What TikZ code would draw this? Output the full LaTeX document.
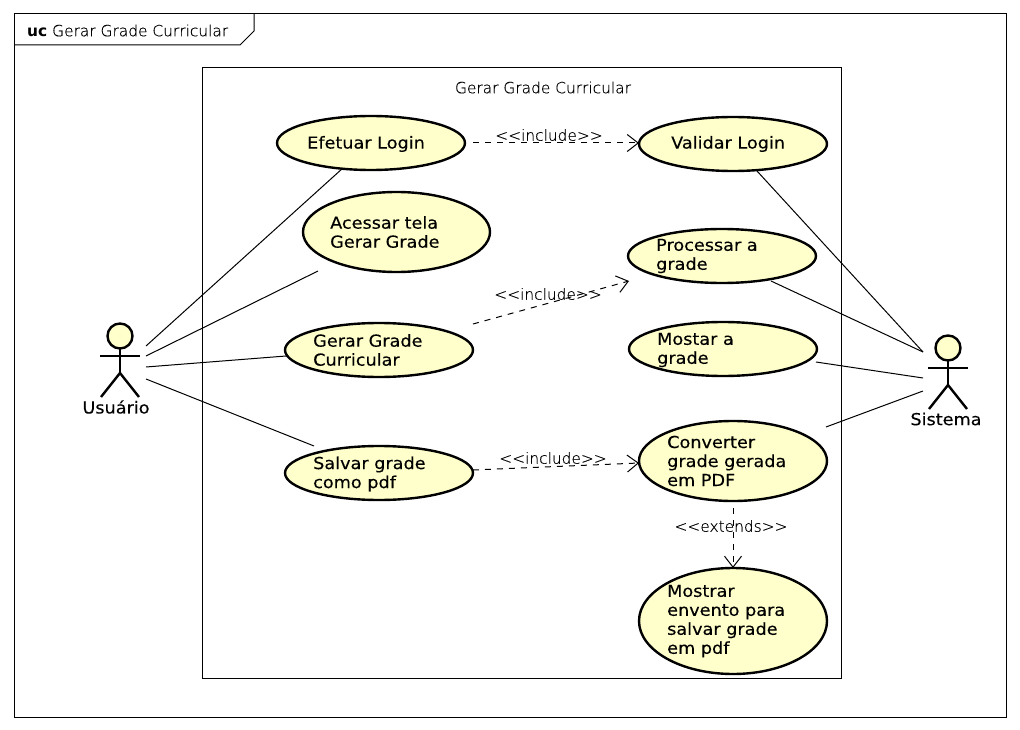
\documentclass[tikz,border=0pt]{standalone}
\usepackage{fontspec}
\setmainfont[FakeStretch=1.07,FakeBold=0.25]{DejaVu Sans}
\newfontfamily\thinfont[FakeBold=0.3]{DejaVu Sans ExtraLight}
\newfontfamily\heavyfont{DejaVu Sans Bold}
\usetikzlibrary{arrows.meta,shapes.geometric}
\definecolor{casefill}{HTML}{FFFFCC}
\tikzset{
	usecase/.style={draw, ellipse, fill=casefill, line width=2.4pt, inner sep=0pt},
	casetext/.style={anchor=west, align=left, font=\fontsize{16.5}{19}\selectfont, inner sep=0pt},
	actortext/.style={font=\fontsize{16.5}{19}\selectfont, inner sep=0pt},
	thintext/.style={font=\thinfont\fontsize{15.4}{18}\selectfont, inner sep=0pt},
	assoc/.style={line width=1pt},
	depend/.style={line width=1pt, dash pattern=on 6pt off 6pt, -{Straight Barb[length=11pt,width=17pt,line width=1pt]}},
}
\def\drawactor(#1,#2){
	\draw[fill=casefill, line width=2.4pt] (#1, #2) circle (12.5);
	\draw[line width=2.4pt] (#1, #2+12.5) -- (#1, #2+37) (#1-20, #2+20) -- (#1+20, #2+20);
	\draw[line width=2.4pt] (#1-19, #2+61) -- (#1, #2+37) -- (#1+19, #2+61);
}
\begin{document}
\begin{tikzpicture}[x=1pt, y=-1pt]
	\useasboundingbox (0, 0) rectangle (1020, 730);
	%%%%% FRAME %%%%%
	\draw[line width=1pt] (14, 14) rectangle (1006, 717);
	\draw[line width=1pt] (254, 14) -- (254, 31) -- (240, 45) -- (14, 45);
	\node[thintext, anchor=west] (frametitle) at (27, 30.5) {{\heavyfont uc} Gerar Grade Curricular};
	\draw[line width=1pt] (202, 68) rectangle (841, 678);
	\node[thintext] (boxtitle) at (543, 87.5) {Gerar Grade Curricular};

	%%%%% USE CASES %%%%%
	\node[usecase, minimum width=188, minimum height=54] (login) at (371, 143) {};
	\node[casetext] at (307, 144) {Efetuar Login};
	\node[usecase, minimum width=188, minimum height=54] (validar) at (733, 144) {};
	\node[casetext] at (671, 144) {Validar Login};
	\node[usecase, minimum width=187, minimum height=80] (acessar) at (396.5, 232) {};
	\node[casetext] at (330, 232) {Acessar tela\\Gerar Grade};
	\node[usecase, minimum width=188, minimum height=54] (processar) at (722, 256) {};
	\node[casetext] at (656, 256) {Processar a\\grade};
	\node[usecase, minimum width=188, minimum height=54] (gerar) at (379, 350) {};
	\node[casetext] at (313, 350) {Gerar Grade\\Curricular};
	\node[usecase, minimum width=188, minimum height=54] (mostar) at (723, 349) {};
	\node[casetext] at (657, 350) {Mostar a\\grade};
	\node[usecase, minimum width=188, minimum height=54] (salvar) at (379, 473) {};
	\node[casetext] at (313, 474) {Salvar grade\\como pdf};
	\node[usecase, minimum width=188, minimum height=80] (converter) at (733, 461) {};
	\node[casetext] at (667, 461) {Converter\\grade gerada\\em PDF};
	\node[usecase, minimum width=188, minimum height=106] (mostrar) at (733, 621) {};
	\node[casetext] at (667, 621) {Mostrar\\envento para\\salvar grade\\em pdf};

	%%%%% ACTORS %%%%%
	\drawactor(120, 336)
	\node[actortext] (usuario) at (116, 407) {Usuário};
	\drawactor(948, 348)
	\node[actortext] (sistema) at (946, 419) {Sistema};

	%%%%% CONNECTOR ENDS %%%%%
	\coordinate (usuarioa) at (146, 346);
	\coordinate (usuariob) at (146, 356);
	\coordinate (usuarioc) at (146, 367);
	\coordinate (usuariod) at (146, 379);
	\coordinate (sistemaa) at (923, 352);
	\coordinate (sistemab) at (923, 378);
	\coordinate (sistemac) at (923, 391);
	\coordinate (loginend) at (343, 168);
	\coordinate (acessarend) at (318, 271);
	\coordinate (gerarend) at (286, 356);
	\coordinate (salvarend) at (314, 446);
	\coordinate (validarend) at (757, 171);
	\coordinate (processarend) at (771, 281);
	\coordinate (mostarend) at (816, 362);
	\coordinate (converterend) at (826, 427);
	\coordinate (loginout) at (473, 143);
	\coordinate (validarin) at (639, 143);
	\coordinate (gerarout) at (473, 324);
	\coordinate (processarin) at (629, 281);
	\coordinate (salvarout) at (473, 470);
	\coordinate (converterin) at (639, 463);
	\coordinate (converterout) at (733, 508);
	\coordinate (mostrarin) at (733, 568);

	\draw[assoc] (usuarioa) -- (loginend);
	\draw[assoc] (usuariob) -- (acessarend);
	\draw[assoc] (usuarioc) -- (gerarend);
	\draw[assoc] (usuariod) -- (salvarend);
	\draw[assoc] (validarend) -- (sistemaa);
	\draw[assoc] (processarend) -- (sistemaa);
	\draw[assoc] (mostarend) -- (sistemab);
	\draw[assoc] (converterend) -- (sistemac);

	\draw[depend] (loginout) -- (validarin);
	\draw[depend] (gerarout) -- (processarin);
	\draw[depend] (salvarout) -- (converterin);
	\draw[depend] (converterout) -- (mostrarin);
	\node[thintext] (includea) at (549, 135) {<{}<include>{}>};
	\node[thintext] (includeb) at (548, 294) {<{}<include>{}>};
	\node[thintext] (includec) at (553, 458) {<{}<include>{}>};
	\node[thintext] (extends) at (731, 526) {<{}<extends>{}>};
\end{tikzpicture}
\end{document}
